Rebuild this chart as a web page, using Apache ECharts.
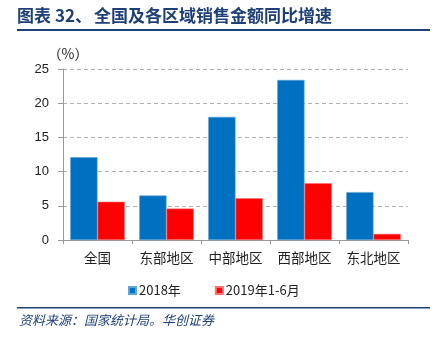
<!DOCTYPE html>
<html>
<head>
<meta charset="utf-8">
<script src="https://cdn.jsdelivr.net/npm/echarts@6/dist/echarts.min.js"></script>
<style>
  html, body { margin: 0; padding: 0; background: #fff; }
  #chart { width: 444px; height: 342px; }
</style>
</head>
<body>
<div id="chart"></div>
<script>
// Regions and year-on-year growth of sales value (%)
const categories = ['全国', '东部地区', '中部地区', '西部地区', '东北地区'];
const growth2018 = [12.1, 6.5, 18.0, 23.4, 7.0];
const growth2019H1 = [5.6, 4.6, 6.1, 8.3, 0.9];
const yTicks = { min: 0, max: 25, step: 5 };

const titleParts = ['图表', '32、', '全国及各区域销售金额同比增速'];
const sourceText = '资料来源：国家统计局。华创证券';

const navy = '#1F3F77';
const cjk = '"Noto Sans CJK SC", sans-serif';

const chart = echarts.init(document.getElementById('chart'), null, { renderer: 'canvas' });

chart.setOption({
  animation: false,
  backgroundColor: '#fff',
  grid: { left: 63, right: 36, top: 69, bottom: 102, containLabel: false },
  legend: {
    top: 279,
    left: 123,
    itemWidth: 7,
    itemHeight: 7,
    itemGap: 34,
    icon: 'rect',
    textStyle: { fontFamily: cjk, fontSize: 13, color: '#222', padding: [0, 0, 0, -2] },
    data: ['2018年', '2019年1-6月']
  },
  xAxis: {
    type: 'category',
    data: categories,
    axisLine: { lineStyle: { color: '#999', width: 1 } },
    axisTick: { show: true, length: 4, lineStyle: { color: '#999' } },
    axisLabel: { interval: 0, fontFamily: cjk, fontSize: 13.5, color: '#222', margin: 11 }
  },
  yAxis: {
    type: 'value',
    min: yTicks.min,
    max: yTicks.max,
    interval: yTicks.step,
    name: '（%）',
    nameLocation: 'end',
    nameGap: 8,
    nameTextStyle: { fontFamily: cjk, fontSize: 14, color: '#222', align: 'center', padding: [0, 0, 0, 10] },
    axisLine: { show: true, lineStyle: { color: '#999' } },
    axisTick: { show: true, length: 5, lineStyle: { color: '#999' } },
    axisLabel: { fontFamily: '"Liberation Sans", Arial, sans-serif', fontSize: 13, color: '#222', margin: 14 },
    splitLine: { lineStyle: { color: '#b0b0b0', type: [4, 3], width: 1 } }
  },
  series: [
    {
      name: '2018年',
      type: 'bar',
      data: growth2018,
      barGap: '0%',
      barCategoryGap: '21%',
      itemStyle: { color: '#0070C0', borderColor: '#5DA5D9', borderWidth: 0.6 }
    },
    {
      name: '2019年1-6月',
      type: 'bar',
      data: growth2019H1,
      itemStyle: { color: '#FF0000', borderColor: '#FF7070', borderWidth: 0.6 }
    }
  ],
  graphic: [
    {
      type: 'text', left: 17, top: 7,
      style: { text: titleParts[0], fontFamily: cjk, fontWeight: 'bold', fontSize: 17, fill: navy }
    },
    {
      type: 'text', left: 55, top: 7,
      style: { text: titleParts[1], fontFamily: cjk, fontWeight: 'bold', fontSize: 17, fill: navy }
    },
    {
      type: 'text', left: 94, top: 7,
      style: { text: titleParts[2], fontFamily: cjk, fontWeight: 'bold', fontSize: 17, fill: navy }
    },
    {
      type: 'rect',
      shape: { x: 17, y: 29, width: 413, height: 2 },
      style: { fill: navy }
    },
    {
      type: 'rect',
      shape: { x: 17, y: 307, width: 413, height: 1.5 },
      style: { fill: navy }
    },
    {
      type: 'text',
      left: 19,
      top: 314,
      style: { text: sourceText, fontFamily: cjk, fontStyle: 'italic', fontSize: 13, fill: navy }
    }
  ]
});
</script>
</body>
</html>
